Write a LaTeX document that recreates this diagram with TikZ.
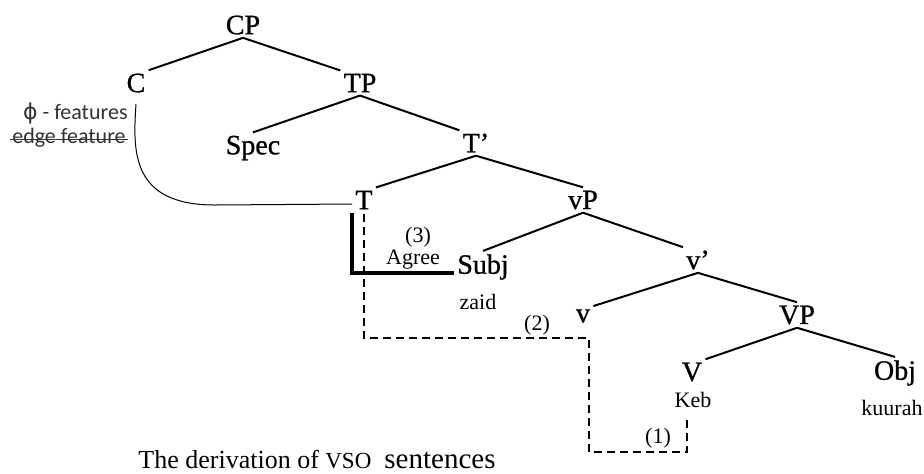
\documentclass[tikz,border=0pt]{standalone}
\usepackage{fontspec}
\setmainfont{Liberation Serif}
\newfontfamily\catfont[FakeBold=0.9,Ligatures=TeX]{Liberation Serif}
\newfontfamily\featfont{Carlito}
\newfontfamily\phifont{DejaVu Sans}

\begin{document}
\begin{tikzpicture}[x=0.5pt,y=-0.5pt,
  cat/.style={font=\catfont\fontsize{14}{16}\selectfont, inner sep=1.5pt},
  word/.style={font=\fontsize{11}{13}\selectfont, inner sep=1pt},
  feat/.style={font=\featfont\fontsize{11}{13}\selectfont, text=black!80, inner sep=1pt, anchor=east},
  branch/.style={line width=1pt},
  moveline/.style={line width=0.6pt, dash pattern=on 4pt off 2.5pt},
  agreeline/.style={line width=1.7pt},
  featline/.style={line width=0.5pt}]
\useasboundingbox (0,0) rectangle (924,473);

\node[cat] (CP) at (243,25) {CP};
\node[cat] (C) at (136,83) {C};
\node[cat] (TP) at (360,83) {TP};
\node[cat] (Spec) at (253,148) {Spec};
\node[cat] (Tbar) at (476,143) {T’};
\node[cat] (T) at (364,200) {T};
\node[cat] (vP) at (583,200) {vP};
\node[cat] (Subj) at (483,267) {Subj};
\node[cat] (vbar) at (698,260) {v’};
\node[cat] (v) at (583,316) {v};
\node[cat] (VP) at (797,315) {VP};
\node[cat] (V) at (692,372) {V};
\node[cat] (Obj) at (895,373) {Obj};

\node[word] (zaid) at (478,302) {zaid};
\node[word] (Keb) at (693,400) {Keb};
\node[word] (kuurah) at (892,408) {kuurah};

\node[feat] (phi) at (130,113) {{\phifont ϕ} - features};
\node[feat] (edge) at (128,138) {edge feature};
\draw[featline, black!80] (edge.mid west) -- (edge.mid east);

\draw[branch] (CP.south) -- (C.north east);
\draw[branch] (CP.south) -- (TP.north west);
\draw[branch] (TP.south) -- (Spec.north);
\draw[branch] (TP.south) -- (Tbar.north west);
\draw[branch] (Tbar.south) -- (T.north east);
\draw[branch] (Tbar.south) -- (vP.north);
\draw[branch] (vP.south) -- (Subj.north);
\draw[branch] (vP.south) -- (vbar.north west);
\draw[branch] (vbar.south) -- (v.north east);
\draw[branch] (vbar.south) -- (VP.north);
\draw[branch] (VP.south) -- (V.north east);
\draw[branch] (VP.south) -- (Obj.north);

% feature check from C down to T
\draw[featline] ([yshift=-4pt]C.south) .. controls (133,150) and (130,205) .. (215,205) -- ([yshift=-2pt]T.west);

% head movement V -> v -> T
\draw[moveline] ([xshift=-3pt,yshift=-5pt]Keb.south) |- (589,452) |- (T.south |- 0,338) -- (T.south);
\node[word] (one) at (658,438) {(1)};
\node[word] (two) at (537,325) {(2)};

% Agree between T and Subj
\draw[agreeline] ([xshift=-6pt]T.south) |- ([yshift=-3pt]Subj.west);
\node[word] (three) at (418,237) {(3)};
\node[word] (agree) at (413,260) {Agree};

\node[anchor=west, font=\fontsize{13}{15}\selectfont, inner sep=1pt] (caption) at (136,460)
  {The derivation of {\fontsize{11.5}{13}\selectfont VSO}\enspace{\fontsize{14.5}{15}\selectfont sentences}};
\end{tikzpicture}
\end{document}
